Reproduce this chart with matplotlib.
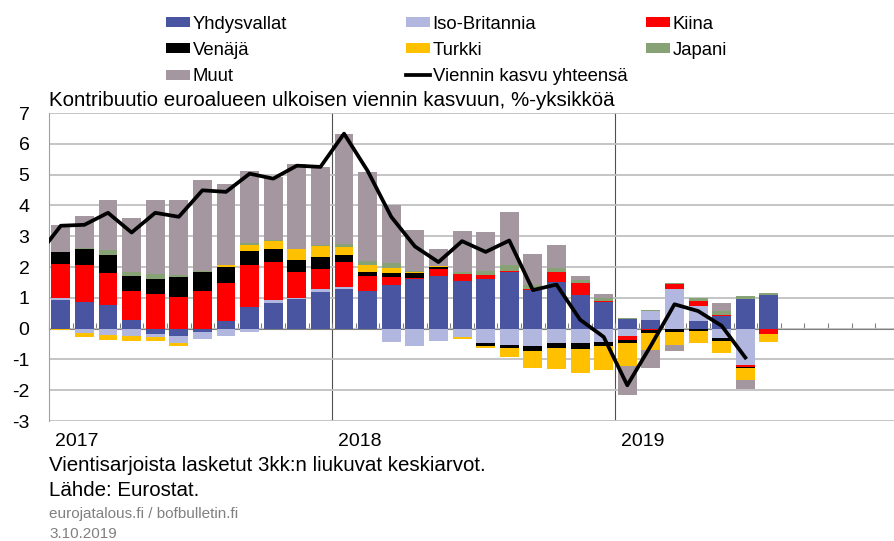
import numpy as np
import matplotlib
matplotlib.use("Agg")
import matplotlib.pyplot as plt
import matplotlib.transforms as mtransforms

plt.rcParams['font.family'] = ['Liberation Sans', 'DejaVu Sans']
plt.rcParams['axes.unicode_minus'] = False

# monthly contributions, Jan 2017 - Jul 2019 (%-points)
us = [0.94, 0.87, 0.78, 0.29, -0.16, -0.23, -0.10, 0.26, 0.69, 0.83, 0.96, 1.19,
      1.30, 1.23, 1.43, 1.61, 1.70, 1.54, 1.61, 1.85, 1.25, 1.51, 1.10, 0.87,
      0.30, 0.28, 0.00, 0.25, 0.41, 0.95, 1.09]
uk = [0.06, -0.14, -0.20, -0.23, -0.10, -0.24, -0.25, -0.25, -0.12, 0.11, 0.03, 0.11,
      0.05, 0.00, -0.44, -0.55, -0.39, -0.28, -0.47, -0.54, -0.56, -0.46, -0.48, -0.43,
      -0.24, 0.29, 1.30, 0.49, -0.32, -1.19, 0.00]
cn = [1.10, 1.19, 1.03, 0.94, 1.13, 1.04, 1.23, 1.23, 1.39, 1.23, 0.84, 0.64,
      0.80, 0.47, 0.25, 0.03, 0.22, 0.24, 0.12, 0.02, 0.05, 0.32, 0.38, 0.04,
      -0.13, -0.05, 0.14, 0.16, 0.03, -0.05, -0.18]
ru = [0.40, 0.52, 0.58, 0.47, 0.49, 0.63, 0.60, 0.51, 0.43, 0.43, 0.40, 0.40,
      0.24, 0.15, 0.13, 0.16, 0.08, 0.00, -0.08, -0.09, -0.18, -0.18, -0.19, -0.13,
      -0.11, -0.08, -0.10, -0.08, -0.08, -0.05, 0.00]
tr = [-0.03, -0.13, -0.16, -0.16, -0.14, -0.11, 0.00, 0.08, 0.22, 0.23, 0.36, 0.34,
      0.26, 0.21, 0.16, 0.05, 0.03, -0.05, -0.09, -0.28, -0.53, -0.66, -0.76, -0.78,
      -0.74, -0.57, -0.43, -0.38, -0.38, -0.38, -0.25]
jp = [0.00, 0.05, 0.15, 0.14, 0.14, 0.06, 0.03, 0.00, 0.05, 0.05, 0.00, 0.04,
      0.10, 0.15, 0.16, 0.03, 0.00, 0.06, 0.13, 0.20, 0.13, 0.14, 0.11, 0.10,
      0.05, 0.05, 0.05, 0.11, 0.13, 0.11, 0.05]
other = [0.87, 1.02, 1.62, 1.75, 2.41, 2.44, 2.98, 2.60, 2.35, 2.03, 2.75, 2.53,
         3.57, 2.87, 1.88, 1.32, 0.54, 1.32, 1.28, 1.71, 1.00, 0.74, 0.13, 0.11,
         -0.92, -0.57, -0.20, 0.00, 0.27, -0.29, 0.00]

# total export growth, Dec 2016 - Jun 2019
total = [2.35, 3.34, 3.37, 3.76, 3.12, 3.76, 3.63, 4.49, 4.44, 5.03, 4.87, 5.29, 5.25,
         6.33, 5.12, 3.63, 2.67, 2.16, 2.84, 2.49, 2.86, 1.25, 1.43, 0.29, -0.27,
         -1.84, -0.55, 0.79, 0.57, 0.09, -0.94]

names = ['Yhdysvallat', 'Iso-Britannia', 'Kiina', 'Venäjä', 'Turkki', 'Japani', 'Muut']
colors = ['#4a55a2', '#b1b7de', '#ff0000', '#000000', '#ffc000', '#87a375', '#a4979f']
series = [us, uk, cn, ru, tr, jp, other]
years = ['2017', '2018', '2019']

fig = plt.figure(figsize=(8.94, 5.41), dpi=100)
ax = fig.add_axes([0.0548, 0.2218, 0.9505, 0.5693])

x = np.arange(len(us))
pos_base = np.zeros(len(us))
neg_base = np.zeros(len(us))
handles = {}
for name, col, vals in zip(names, colors, series):
    v = np.array(vals)
    p = np.where(v > 0, v, 0)
    n = np.where(v < 0, v, 0)
    h = ax.bar(x, p, 0.8, bottom=pos_base, color=col, zorder=3, label=name)
    ax.bar(x, n, 0.8, bottom=neg_base, color=col, zorder=3)
    pos_base += p
    neg_base += n
    handles[name] = h

line, = ax.plot(np.arange(-1, len(total) - 1), total, color='black', lw=2.7,
                zorder=5, label='Viennin kasvu yhteensä')

ax.set_xlim(-0.5, 35.5)
ax.set_ylim(-3, 7)
ax.set_yticks(range(-3, 8))
ax.grid(axis='y', color='#c0c0c0', lw=1.3, zorder=0)
ax.tick_params(axis='y', length=0, labelsize=14, pad=14)
for s in ['top', 'right']:
    ax.spines[s].set_visible(False)
ax.spines['left'].set_color('#a0a0a0')
ax.spines['bottom'].set_position(('data', 0))
ax.spines['bottom'].set_color('#808080')
ax.spines['bottom'].set_zorder(2)
ax.set_xticks(np.arange(-0.5, 36, 1))
ax.tick_params(axis='x', direction='in', length=4, color='#808080', labelbottom=False)
for xv in [11.5, 23.5]:
    ax.axvline(xv, color='#505050', lw=0.8, zorder=1)

trans = mtransforms.blended_transform_factory(ax.transData, ax.transAxes)
for i, yr in enumerate(years):
    ax.text(12 * i - 0.25, -0.065, yr, transform=trans, fontsize=14,
            ha='left', va='center')

fig.text(0.055, 0.815, 'Kontribuutio euroalueen ulkoisen viennin kasvuun, %-yksikköä',
         fontsize=14.8, va='center')
fig.text(0.055, 0.139, 'Vientisarjoista lasketut 3kk:n liukuvat keskiarvot.',
         fontsize=14.8, va='center')
fig.text(0.055, 0.094, 'Lähde: Eurostat.', fontsize=14.8, va='center')
fig.text(0.055, 0.050, 'eurojatalous.fi / bofbulletin.fi', fontsize=11,
         color='#808080', va='center')
fig.text(0.055, 0.013, '3.10.2019', fontsize=11, color='#808080', va='center')

cols = [[handles['Yhdysvallat'], handles['Venäjä'], handles['Muut']],
        [handles['Iso-Britannia'], handles['Turkki'], line],
        [handles['Kiina'], handles['Japani']]]
for i, hs in enumerate(cols):
    leg = fig.legend(handles=hs, labels=[h.get_label() for h in hs],
                     loc='upper left', bbox_to_anchor=(0.175 + i * 0.2685, 0.988),
                     frameon=False, fontsize=13.3, borderpad=0, handlelength=1.3,
                     handleheight=0.45, handletextpad=0.15, labelspacing=0.5)

fig.savefig('out.png', dpi=100)
